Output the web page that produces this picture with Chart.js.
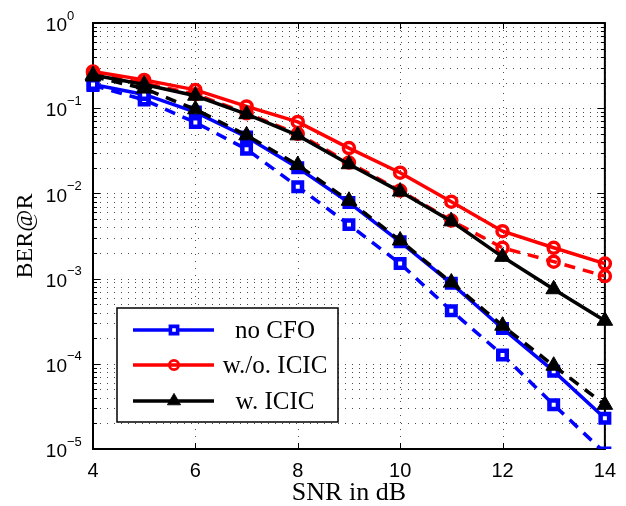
<!DOCTYPE html>
<html>
<head>
<meta charset="utf-8">
<script src="https://cdn.jsdelivr.net/npm/chart.js@4/dist/chart.umd.min.js"></script>
<style>
  html, body { margin: 0; padding: 0; background: #fff; }
  #wrap { width: 626px; height: 506px; }
</style>
</head>
<body>
<div id="wrap"><canvas id="chart" width="626" height="506"></canvas></div>
<script>
// SNR points (dB)
const snr = [4, 5, 6, 7, 8, 9, 10, 11, 12, 13, 14];

// BER@R; solid = legend entries, dashed = companion curves
const noCfoSolid   = [0.19, 0.145, 0.09, 0.046, 0.020, 0.0078, 0.0027, 0.00088, 0.00026, 0.000082, 0.000023];
const noCfoDashed  = [0.185, 0.125, 0.068, 0.033, 0.012, 0.0043, 0.0015, 0.00042, 0.000127, 0.000033, 0.000009];
const woIcicSolid  = [0.27, 0.215, 0.164, 0.105, 0.069, 0.034, 0.0175, 0.0080, 0.0036, 0.0023, 0.0015];
const woIcicDashed = [0.26, 0.196, 0.146, 0.087, 0.050, 0.023, 0.0108, 0.0048, 0.0023, 0.00158, 0.00107];
const wIcicSolid   = [0.245, 0.19, 0.14, 0.085, 0.048, 0.022, 0.0105, 0.0047, 0.0018, 0.00075, 0.00032];
const wIcicDashed  = [0.235, 0.17, 0.097, 0.048, 0.0215, 0.0082, 0.0028, 0.0009, 0.00028, 0.000095, 0.000033];

// axis ticks
const xTicks = [4, 6, 8, 10, 12, 14];
const yDecades = [-5, -4, -3, -2, -1, 0];

const legendLabels = ['no CFO', 'w./o. ICIC', 'w. ICIC'];

const BLUE = '#0000ff', RED = '#ff0000', BLACK = '#000000';
const SANS = '"Liberation Sans", Arial, sans-serif';
const SERIF = '"Liberation Serif", "Times New Roman", serif';

const marker = {
  square: { pointStyle: 'rect', pointRadius: 6, pointBorderWidth: 4.5, pointBackgroundColor: '#fff' },
  circle: { pointStyle: 'circle', pointRadius: 5.5, pointBorderWidth: 3.5, pointBackgroundColor: 'rgba(0,0,0,0)' },
  triangle: { pointStyle: 'triangle', pointRadius: 9, pointBorderWidth: 1, pointBackgroundColor: BLACK }
};

function series(data, color, mk, dashed) {
  return Object.assign({
    data: data,
    borderColor: color,
    pointBorderColor: color,
    borderWidth: 3.5,
    borderDash: dashed ? [11, 8] : [],
    tension: 0,
    fill: false,
    clip: false,
    pointHoverRadius: 0
  }, marker[mk]);
}

// dataset 0 is painted last (on top)
const datasets = [
  series(wIcicSolid, BLACK, 'triangle', false),
  series(wIcicDashed, BLACK, 'triangle', true),
  series(woIcicSolid, RED, 'circle', false),
  series(woIcicDashed, RED, 'circle', true),
  series(noCfoSolid, BLUE, 'square', false),
  Object.assign(series(noCfoDashed, BLUE, 'square', true), { clip: { left: false, top: false, right: false, bottom: 0 } })
];

function decadeValues() {
  const out = [];
  yDecades.forEach(k => {
    for (let m = 1; m <= 9; m++) {
      if (k === 0 && m > 1) break;
      out.push(m * Math.pow(10, k));
    }
  });
  return out;
}

const frame = {
  id: 'frame',
  beforeDatasetsDraw(chart) {
    const { ctx, chartArea: a, scales: { x, y } } = chart;
    ctx.save();
    // dotted grid
    ctx.strokeStyle = 'rgba(0,0,0,0.7)';
    ctx.lineWidth = 1;
    ctx.setLineDash([1, 6]);
    ctx.beginPath();
    xTicks.forEach(v => {
      const px = Math.round(x.getPixelForValue(v)) + 0.5;
      ctx.moveTo(px, a.top); ctx.lineTo(px, a.bottom);
    });
    decadeValues().forEach(v => {
      const py = Math.round(y.getPixelForValue(v)) + 0.5;
      ctx.moveTo(a.left, py); ctx.lineTo(a.right, py);
    });
    ctx.stroke();
    ctx.setLineDash([]);
    // inward ticks
    ctx.strokeStyle = '#000';
    ctx.beginPath();
    decadeValues().forEach(v => {
      const py = Math.round(y.getPixelForValue(v)) + 0.5;
      const len = Math.abs(Math.log10(v) - Math.round(Math.log10(v))) < 1e-9 ? 7 : 4;
      ctx.moveTo(a.left, py); ctx.lineTo(a.left + len, py);
      ctx.moveTo(a.right, py); ctx.lineTo(a.right - len, py);
    });
    xTicks.forEach(v => {
      const px = Math.round(x.getPixelForValue(v)) + 0.5;
      ctx.moveTo(px, a.bottom); ctx.lineTo(px, a.bottom - 6);
      ctx.moveTo(px, a.top); ctx.lineTo(px, a.top + 6);
    });
    ctx.stroke();
    // box
    ctx.lineWidth = 2;
    ctx.strokeRect(a.left, a.top, a.right - a.left, a.bottom - a.top);
    // y tick labels 10^k
    ctx.fillStyle = '#000';
    yDecades.forEach(k => {
      const py = y.getPixelForValue(Math.pow(10, k));
      ctx.font = '19px ' + SANS;
      ctx.textAlign = 'right';
      ctx.textBaseline = 'middle';
      ctx.fillText('10', 67, py + 3);
      ctx.font = '13px ' + SANS;
      ctx.textAlign = 'left';
      ctx.fillText(k === 0 ? '0' : '\u2212' + (-k), 67, py - 7);
    });
    ctx.restore();
  },
  afterDraw(chart) {
    const { ctx } = chart;
    const box = { left: 117, top: 308, right: 338, bottom: 422 };
    const rows = [330, 365, 401];
    ctx.save();
    ctx.fillStyle = '#fff';
    ctx.fillRect(box.left, box.top, box.right - box.left, box.bottom - box.top);
    ctx.strokeStyle = '#000';
    ctx.lineWidth = 1.5;
    ctx.strokeRect(box.left, box.top, box.right - box.left, box.bottom - box.top);
    // solid datasets in legend order: no CFO, w./o. ICIC, w. ICIC
    [4, 2, 0].forEach((di, i) => {
      const ds = chart.data.datasets[di];
      const ry = rows[i];
      ctx.strokeStyle = ds.borderColor;
      ctx.lineWidth = 3.5;
      ctx.beginPath();
      ctx.moveTo(133, ry); ctx.lineTo(214, ry);
      ctx.stroke();
      ctx.lineWidth = ds.pointBorderWidth * 0.8;
      ctx.strokeStyle = ds.pointBorderColor;
      ctx.fillStyle = ds.pointBackgroundColor;
      Chart.helpers.drawPoint(ctx, { pointStyle: ds.pointStyle, radius: ds.pointRadius * 0.85, rotation: 0, borderWidth: ds.pointBorderWidth * 0.8 }, 174, ry);
      ctx.fillStyle = '#000';
      ctx.font = '25px ' + SERIF;
      ctx.textAlign = 'center';
      ctx.textBaseline = 'middle';
      ctx.fillText(legendLabels[i], 275, ry + 1);
    });
    ctx.restore();
  }
};

new Chart(document.getElementById('chart'), {
  type: 'line',
  data: { labels: snr, datasets: datasets.map(d => Object.assign(d, { data: d.data.map((v, i) => ({ x: snr[i], y: v })) })) },
  options: {
    responsive: false,
    animation: false,
    events: [],
    layout: { padding: { top: 23, right: 20, left: 0, bottom: 0 } },
    plugins: { legend: { display: false }, tooltip: { enabled: false } },
    scales: {
      x: {
        type: 'linear',
        min: 4, max: 14,
        afterBuildTicks: s => { s.ticks = xTicks.map(v => ({ value: v })); },
        afterFit: s => { s.height = 57; },
        grid: { display: false, drawTicks: false },
        border: { display: false },
        ticks: { color: '#000', font: { family: SANS, size: 20 }, padding: 10, maxRotation: 0, autoSkip: false },
        title: { display: true, text: 'SNR in dB', color: '#000', font: { family: SERIF, size: 26, lineHeight: 1 }, padding: { top: 0, bottom: 0 } }
      },
      y: {
        type: 'logarithmic',
        min: 1e-5, max: 1,
        afterFit: s => { s.width = 93; },
        grid: { display: false, drawTicks: false },
        border: { display: false },
        ticks: { display: false },
        title: { display: true, text: 'BER@R', color: '#000', font: { family: SERIF, size: 24 }, padding: { top: 11, bottom: 0 } }
      }
    }
  },
  plugins: [frame]
});
</script>
</body>
</html>
